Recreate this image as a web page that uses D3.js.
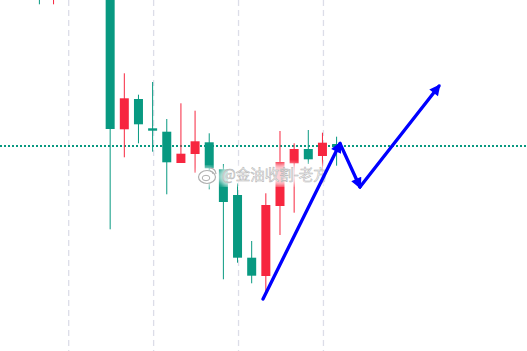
<!DOCTYPE html>
<html>
<head>
<meta charset="utf-8">
<script src="https://cdn.jsdelivr.net/npm/d3@7"></script>
<style>
body{margin:0;background:#fff;overflow:hidden}
</style>
</head>
<body>
<div id="chart"></div>
<script>
// candle index 0..21, prices (first ones run off the top)
var opens  = [1976.0,1971.5,1975.0,1974.2,1973.5,1975.0,1957.07,1960.1,1957.17,1956.83,1953.7,1954.6,1955.77,1953.07,1950.5,1944.23,1942.4,1949.4,1953.67,1955.1,1954.4,1955.6];
var highs  = [1977.0,1976.0,1976.2,1975.8,1976.0,1976.0,1962.67,1960.53,1961.8,1958.1,1959.67,1958.93,1956.67,1953.6,1951.67,1945.9,1950.67,1956.9,1955.67,1957.0,1956.73,1956.33];
var lows   = [1969.57,1969.57,1973.1,1972.4,1971.8,1947.07,1954.27,1955.67,1954.83,1950.57,1953.7,1952.73,1951.07,1942.07,1943.73,1941.67,1940.6,1946.5,1948.73,1953.6,1951.67,1953.43];
var closes = [1972.0,1975.0,1974.2,1973.5,1975.2,1957.1,1960.17,1957.57,1956.93,1953.77,1954.63,1955.87,1953.17,1949.8,1944.23,1942.43,1949.5,1953.8,1955.1,1954.07,1955.73,1955.27];

var gridTicks = [2, 8, 14, 20];
var levelPrice = 1955.4;

// hand drawn zigzag arrow, [index, price]
var arrowPts = [[15.8,1940.1],[21.24,1955.65],[22.65,1951.3],[28.24,1961.4]];
var watermark = "@金油收割-老方";

var color = {up:"#f7263f", down:"#089981"};

var svg = d3.select("#chart").append("svg").attr("width",527).attr("height",351);

var x = d3.scaleLinear().domain([0,21]).range([39.4,336.6]);
var y = d3.scaleLinear().domain([1970,1934.9]).range([0,351]);

var candles = opens.map(function(o,i){
  return {i:i, o:o, h:highs[i], l:lows[i], c:closes[i]};
});

// vertical dashed grid
var grid = svg.append("g").attr("transform","translate(0.5,0)")
  .call(d3.axisBottom(x).tickValues(gridTicks).tickSize(351).tickFormat(""));
grid.select(".domain").remove();
grid.selectAll(".tick line")
  .attr("stroke","#dcdde8")
  .attr("stroke-width",1.3)
  .attr("stroke-dasharray","6,4");

// dotted level line
svg.append("line")
  .attr("x1",0).attr("x2",527)
  .attr("y1",y(levelPrice)).attr("y2",y(levelPrice))
  .attr("stroke",color.down)
  .attr("stroke-width",2)
  .attr("stroke-dasharray","2,2");

var cg = svg.append("g");
var c = cg.selectAll(".candle").data(candles).enter().append("g").attr("class","candle");
c.append("line")
  .attr("x1",d=>x(d.i)).attr("x2",d=>x(d.i))
  .attr("y1",d=>y(d.h)).attr("y2",d=>y(d.l))
  .attr("stroke",d=>d.c>d.o?color.up:color.down)
  .attr("stroke-width",1);
c.append("rect")
  .attr("x",d=>x(d.i)-4.5)
  .attr("width",9)
  .attr("y",d=>y(Math.max(d.o,d.c)))
  .attr("height",d=>Math.max(1.5,Math.abs(y(d.o)-y(d.c))))
  .attr("fill",d=>d.c>d.o?color.up:color.down);

// watermark
var wm = svg.append("g").attr("transform","translate(222,180)");
var defs = svg.append("defs");
defs.append("filter").attr("id","haze").append("feGaussianBlur").attr("stdDeviation",2.5);
wm.append("text").text(watermark)
  .attr("font-family","'Noto Sans CJK SC', sans-serif").attr("font-size",14.5)
  .attr("fill","#fff").attr("stroke","#fff").attr("stroke-width",7).attr("opacity",0.8)
  .attr("filter","url(#haze)");
wm.append("text").text(watermark)
  .attr("font-family","'Noto Sans CJK SC', sans-serif").attr("font-size",14.5)
  .attr("fill","#fff").attr("stroke","#b4b4b4").attr("stroke-width",0.55);
// weibo logo
var logo = svg.append("g").attr("transform","translate(207,177)");
logo.append("ellipse").attr("rx",12).attr("ry",10).attr("fill","#fff").attr("opacity",0.75).attr("filter","url(#haze)");
logo.append("ellipse").attr("rx",8.5).attr("ry",6.5).attr("fill","#fff").attr("stroke","#b0b0b0").attr("stroke-width",1.2);
logo.append("ellipse").attr("cx",-1).attr("cy",1).attr("rx",3.8).attr("ry",2.7).attr("fill","none").attr("stroke","#b0b0b0").attr("stroke-width",1);
logo.append("path").attr("d","M3,-9 A6,6 0 0 1 9,-3 M3,-6 A3,3 0 0 1 6,-3").attr("fill","none").attr("stroke","#b0b0b0").attr("stroke-width",1.2);

// arrows
defs.append("marker").attr("id","head")
  .attr("viewBox","0 0 10 10").attr("refX",8).attr("refY",5)
  .attr("markerWidth",12).attr("markerHeight",11)
  .attr("markerUnits","userSpaceOnUse").attr("orient","auto")
  .append("path").attr("d","M0,0 L10,5 L0,10 z").attr("fill","#0000ff");

var segs = d3.pairs(arrowPts);
svg.append("g").selectAll("line").data(segs).enter().append("line")
  .attr("x1",d=>x(d[0][0])).attr("y1",d=>y(d[0][1]))
  .attr("x2",d=>x(d[1][0])).attr("y2",d=>y(d[1][1]))
  .attr("stroke","#0000ff").attr("stroke-width",3.3)
  .attr("stroke-linecap","round")
  .attr("marker-end","url(#head)");
</script>
</body>
</html>
